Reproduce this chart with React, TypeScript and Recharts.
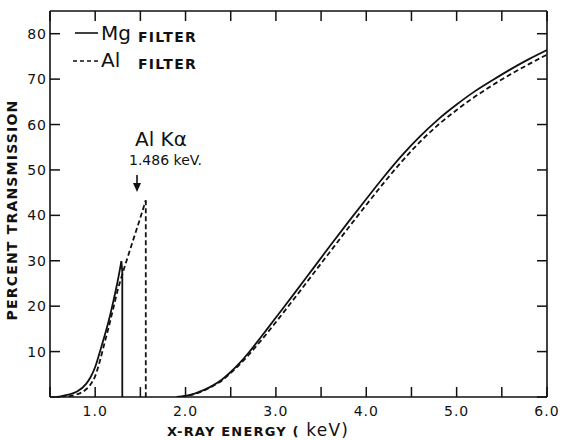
import { Line, LineChart, XAxis, YAxis } from "recharts";

// Mg filter (solid): rise to the Mg K edge, the edge itself, and the high-energy branch
const mgRiseEnergy = [0.57, 0.6, 0.7, 0.8, 0.9, 0.95, 1.0, 1.05, 1.1, 1.15, 1.2, 1.25, 1.29];
const mgRisePercent = [0, 0.1, 0.5, 1.2, 2.9, 4.4, 6.6, 9.8, 13.2, 16.8, 21.0, 25.6, 29.9];
const mgEdgeEnergy = [1.29, 1.3, 1.3];
const mgEdgePercent = [29.9, 27.5, 0];
const mgHighEnergy = [1.9, 2.0, 2.1, 2.2, 2.3, 2.4, 2.5, 2.6, 2.7, 2.8, 2.9, 3.0, 3.2, 3.4, 3.6, 3.8, 4.0, 4.2, 4.4, 4.6, 4.8, 5.0, 5.2, 5.4, 5.6, 5.8, 6.0];
const mgHighPercent = [0, 0.25, 0.75, 1.5, 2.5, 3.8, 5.5, 7.5, 9.8, 12.3, 14.9, 17.5, 22.7, 28.0, 33.3, 38.5, 43.6, 48.6, 53.3, 57.5, 61.2, 64.4, 67.3, 69.8, 72.2, 74.4, 76.4];

// Al filter (dashed)
const alRiseEnergy = [0.62, 0.7, 0.8, 0.9, 0.95, 1.0, 1.05, 1.1, 1.15, 1.2, 1.25, 1.3, 1.4, 1.5, 1.56];
const alRisePercent = [0, 0.15, 0.6, 1.7, 2.8, 4.6, 7.8, 11.6, 15.4, 19.5, 23.6, 27.0, 33.3, 39.5, 43.3];
const alEdgeEnergy = [1.56, 1.56];
const alEdgePercent = [43.3, 0];
const alHighEnergy = [1.95, 2.0, 2.1, 2.2, 2.3, 2.4, 2.5, 2.6, 2.7, 2.8, 2.9, 3.0, 3.2, 3.4, 3.6, 3.8, 4.0, 4.2, 4.4, 4.6, 4.8, 5.0, 5.2, 5.4, 5.6, 5.8, 6.0];
const alHighPercent = [0, 0.2, 0.65, 1.4, 2.4, 3.6, 5.3, 7.2, 9.3, 11.6, 14.0, 16.5, 21.6, 26.8, 32.0, 37.2, 42.3, 47.3, 52.0, 56.3, 60.0, 63.2, 66.1, 68.7, 71.1, 73.3, 75.4];

const energyTicks = [0.5, 1.0, 1.5, 2.0, 2.5, 3.0, 3.5, 4.0, 4.5, 5.0, 5.5, 6.0];
const energyLabels = ["", "1.0", "", "2.0", "", "3.0", "", "4.0", "", "5.0", "", "6.0"];
const percentTicks = [0, 10, 20, 30, 40, 50, 60, 70, 80];
const percentLabels = ["", "10", "20", "30", "40", "50", "60", "70", "80"];

const toPoints = (e: number[], p: number[]) => e.map((x, i) => ({ e: x, t: p[i] }));

const INK = "#111";
const FONT = "'DejaVu Sans', sans-serif";
const TICK = 10;

const BottomTick = ({ x, y, payload }: any) => {
  const label = energyLabels[energyTicks.indexOf(payload.value)];
  return (
    <g>
      <line x1={x} y1={y} x2={x} y2={y - TICK} stroke={INK} strokeWidth={1.5} />
      {label && (
        <text x={x} y={y + 19} textAnchor="middle" fontSize={14} fontFamily={FONT} fill={INK} letterSpacing={1}>
          {label}
        </text>
      )}
    </g>
  );
};

const TopTick = ({ x, y }: any) => (
  <line x1={x} y1={y} x2={x} y2={y + TICK} stroke={INK} strokeWidth={1.5} />
);

const LeftTick = ({ x, y, payload }: any) => {
  const label = percentLabels[percentTicks.indexOf(payload.value)];
  return (
    <g>
      <line x1={x} y1={y} x2={x + TICK} y2={y} stroke={INK} strokeWidth={1.5} />
      {label && (
        <text x={x - 3} y={y + 5} textAnchor="end" fontSize={14} fontFamily={FONT} fill={INK} letterSpacing={1}>
          {label}
        </text>
      )}
    </g>
  );
};

const RightTick = ({ x, y }: any) => (
  <line x1={x} y1={y} x2={x - TICK} y2={y} stroke={INK} strokeWidth={1.5} />
);

const axisLine = { stroke: INK, strokeWidth: 1.6 };
const solid = { stroke: INK, strokeWidth: 1.8, dot: false, isAnimationActive: false };
const dashed = { ...solid, strokeDasharray: "5 3" };

export default function App() {
  return (
    <div style={{ position: "absolute", left: 0, top: 0, width: 561, height: 440, background: "#fff" }}>
      <LineChart width={561} height={440} margin={{ top: 1, right: 10, bottom: 10, left: 8 }}>
        <XAxis
          dataKey="e"
          type="number"
          domain={[0.5, 6]}
          ticks={energyTicks}
          interval={0}
          allowDataOverflow
          height={33}
          tickSize={0}
          tickMargin={0}
          tickLine={false}
          axisLine={axisLine}
          tick={<BottomTick />}
        />
        <XAxis
          xAxisId="top"
          orientation="top"
          dataKey="e"
          type="number"
          domain={[0.5, 6]}
          ticks={energyTicks}
          interval={0}
          allowDataOverflow
          height={10}
          tickSize={0}
          tickMargin={0}
          tickLine={false}
          axisLine={axisLine}
          tick={<TopTick />}
        />
        <YAxis
          type="number"
          domain={[0, 85]}
          ticks={percentTicks}
          interval={0}
          allowDataOverflow
          width={42}
          tickSize={0}
          tickMargin={0}
          tickLine={false}
          axisLine={axisLine}
          tick={<LeftTick />}
        />
        <YAxis
          yAxisId="right"
          orientation="right"
          type="number"
          domain={[0, 85]}
          ticks={percentTicks}
          interval={0}
          allowDataOverflow
          width={4}
          tickSize={0}
          tickMargin={0}
          tickLine={false}
          axisLine={axisLine}
          tick={<RightTick />}
        />
        <Line data={toPoints(mgRiseEnergy, mgRisePercent)} dataKey="t" type="monotone" {...solid} />
        <Line data={toPoints(mgEdgeEnergy, mgEdgePercent)} dataKey="t" type="linear" {...solid} />
        <Line data={toPoints(mgHighEnergy, mgHighPercent)} dataKey="t" type="monotone" {...solid} />
        <Line data={toPoints(alRiseEnergy, alRisePercent)} dataKey="t" type="monotone" {...dashed} />
        <Line data={toPoints(alEdgeEnergy, alEdgePercent)} dataKey="t" type="linear" {...dashed} />
        <Line data={toPoints(alHighEnergy, alHighPercent)} dataKey="t" type="monotone" {...dashed} />
      </LineChart>

      <svg width={561} height={440} style={{ position: "absolute", left: 0, top: 0, pointerEvents: "none" }} fontFamily={FONT} fill={INK}>
        {/* legend */}
        <line x1={75} y1={33} x2={98} y2={33} stroke={INK} strokeWidth={1.6} />
        <text x={101} y={40} fontSize={20}>Mg</text>
        <text x={138} y={42} fontSize={14} fontWeight="bold" letterSpacing={1.3}>FILTER</text>
        <line x1={73} y1={61} x2={98} y2={61} stroke={INK} strokeWidth={1.6} strokeDasharray="4 3" />
        <text x={101} y={67} fontSize={20}>Al</text>
        <text x={138} y={69} fontSize={14} fontWeight="bold" letterSpacing={1.3}>FILTER</text>

        {/* Al K-alpha annotation */}
        <text x={135} y={146} fontSize={20}>Al Kα</text>
        <text x={129} y={165} fontSize={14}>1.486 keV.</text>
        <line x1={137} y1={175} x2={137} y2={186} stroke={INK} strokeWidth={1.6} />
        <polygon points="133,183 141,183 137,192" fill={INK} />

        {/* axis titles */}
        <text x={17} y={210} fontSize={14} fontWeight="bold" letterSpacing={1.2} textAnchor="middle" transform="rotate(-90 17 210)">
          PERCENT TRANSMISSION
        </text>
        <text x={258} y={436} textAnchor="middle" letterSpacing={1.2}>
          <tspan fontSize={13} fontWeight="bold">X-RAY ENERGY (</tspan>
          <tspan fontSize={17}> keV)</tspan>
        </text>
      </svg>
    </div>
  );
}
